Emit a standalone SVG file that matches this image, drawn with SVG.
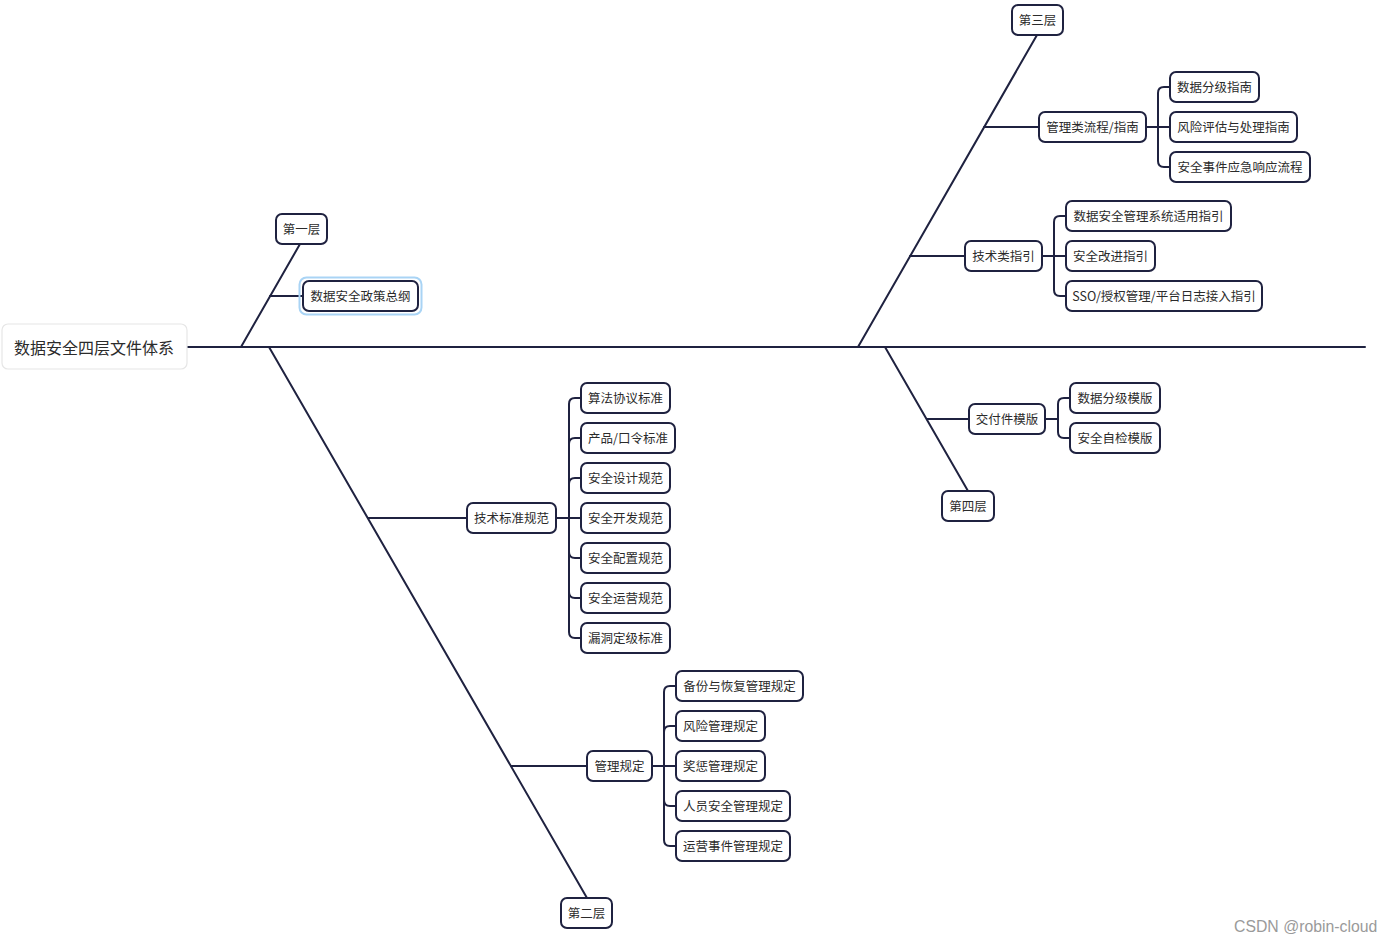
<svg xmlns="http://www.w3.org/2000/svg" width="1392" height="942" viewBox="0 0 1392 942">
<style>
.bg{fill:#ffffff}
.ln{fill:none;stroke:#1f2240;stroke-width:2;stroke-linecap:round;stroke-linejoin:round}
.box{fill:#ffffff;stroke:#1f2240;stroke-width:2}
.root{fill:#ffffff;stroke:#e6e6e6;stroke-width:1.2}
.halo{fill:none;stroke:#a9d4f5;stroke-width:2}
.t{font-family:"Noto Sans CJK SC","Liberation Sans",sans-serif;font-size:12.5px;fill:#2b2b2b;text-anchor:middle;dominant-baseline:central}
.tr{font-family:"Noto Sans CJK SC","Liberation Sans",sans-serif;font-size:16px;fill:#2b2b2b;text-anchor:middle;dominant-baseline:central}
.wm{font-family:"Liberation Sans",Arial,sans-serif;font-size:15.8px;fill:#9a9a9a}
</style>
<rect class="bg" x="0" y="0" width="1392" height="942"/>
<g id="connectors">
<path class="ln" d="M187 347 H1365"/>
<path class="ln" d="M241 347 L300 244"/>
<path class="ln" d="M270 296 H303"/>
<path class="ln" d="M269 347 L587 898"/>
<path class="ln" d="M368 518 H467"/>
<path class="ln" d="M511 766 H587"/>
<path class="ln" d="M858 347 L1037 35"/>
<path class="ln" d="M984 127 H1039"/>
<path class="ln" d="M910 256 H965"/>
<path class="ln" d="M885 347 L968 491"/>
<path class="ln" d="M927 419 H969"/>
<path class="ln" d="M556 518 H581"/>
<path class="ln" d="M569 518 V404 Q569 398 575 398 H581"/>
<path class="ln" d="M569 518 V444 Q569 438 575 438 H581"/>
<path class="ln" d="M569 518 V484 Q569 478 575 478 H581"/>
<path class="ln" d="M569 518 V552 Q569 558 575 558 H581"/>
<path class="ln" d="M569 518 V592 Q569 598 575 598 H581"/>
<path class="ln" d="M569 518 V632 Q569 638 575 638 H581"/>
<path class="ln" d="M652 766 H676"/>
<path class="ln" d="M664 766 V692 Q664 686 670 686 H676"/>
<path class="ln" d="M664 766 V732 Q664 726 670 726 H676"/>
<path class="ln" d="M664 766 V800 Q664 806 670 806 H676"/>
<path class="ln" d="M664 766 V840 Q664 846 670 846 H676"/>
<path class="ln" d="M1146 127 H1170"/>
<path class="ln" d="M1158 127 V93 Q1158 87 1164 87 H1170"/>
<path class="ln" d="M1158 127 V161 Q1158 167 1164 167 H1170"/>
<path class="ln" d="M1042 256 H1066"/>
<path class="ln" d="M1054 256 V222 Q1054 216 1060 216 H1066"/>
<path class="ln" d="M1054 256 V290 Q1054 296 1060 296 H1066"/>
<path class="ln" d="M1045 419 H1058"/>
<path class="ln" d="M1058 419 V404 Q1058 398 1064 398 H1070"/>
<path class="ln" d="M1058 419 V432 Q1058 438 1064 438 H1070"/>
</g>

<g id="root"><rect class="root" x="2" y="324" width="185" height="45" rx="6"/><text class="tr" x="94" y="346.5">数据安全四层文件体系</text></g>

<g id="layer1"><rect class="box" x="276" y="214" width="51" height="30" rx="6"/><text class="t" x="301.5" y="228.5">第一层</text></g>
<g id="policy"><rect class="halo" x="299.5" y="277.5" width="122" height="37" rx="7"/><rect class="box" x="303" y="281" width="115" height="30" rx="6"/><text class="t" x="360.5" y="295.5">数据安全政策总纲</text></g>

<g id="layer2"><rect class="box" x="561" y="898" width="51" height="30" rx="6"/><text class="t" x="586.5" y="912.5">第二层</text></g>
<g id="tech-std"><rect class="box" x="467" y="503" width="89" height="30" rx="6"/><text class="t" x="511.5" y="517.5">技术标准规范</text></g>
<g id="n-algo"><rect class="box" x="581" y="383" width="89" height="30" rx="6"/><text class="t" x="625.5" y="397.5">算法协议标准</text></g>
<g id="n-prod"><rect class="box" x="581" y="423" width="94" height="30" rx="6"/><text class="t" x="628" y="437.5">产品/口令标准</text></g>
<g id="n-design"><rect class="box" x="581" y="463" width="89" height="30" rx="6"/><text class="t" x="625.5" y="477.5">安全设计规范</text></g>
<g id="n-dev"><rect class="box" x="581" y="503" width="89" height="30" rx="6"/><text class="t" x="625.5" y="517.5">安全开发规范</text></g>
<g id="n-conf"><rect class="box" x="581" y="543" width="89" height="30" rx="6"/><text class="t" x="625.5" y="557.5">安全配置规范</text></g>
<g id="n-ops"><rect class="box" x="581" y="583" width="89" height="30" rx="6"/><text class="t" x="625.5" y="597.5">安全运营规范</text></g>
<g id="n-vuln"><rect class="box" x="581" y="623" width="89" height="30" rx="6"/><text class="t" x="625.5" y="637.5">漏洞定级标准</text></g>

<g id="mgmt"><rect class="box" x="587" y="751" width="65" height="30" rx="6"/><text class="t" x="619.5" y="765.5">管理规定</text></g>
<g id="n-backup"><rect class="box" x="676" y="671" width="127" height="30" rx="6"/><text class="t" x="739.5" y="685.5">备份与恢复管理规定</text></g>
<g id="n-risk"><rect class="box" x="676" y="711" width="89" height="30" rx="6"/><text class="t" x="720.5" y="725.5">风险管理规定</text></g>
<g id="n-reward"><rect class="box" x="676" y="751" width="89" height="30" rx="6"/><text class="t" x="720.5" y="765.5">奖惩管理规定</text></g>
<g id="n-staff"><rect class="box" x="676" y="791" width="114" height="30" rx="6"/><text class="t" x="733" y="805.5">人员安全管理规定</text></g>
<g id="n-event"><rect class="box" x="676" y="831" width="114" height="30" rx="6"/><text class="t" x="733" y="845.5">运营事件管理规定</text></g>

<g id="layer3"><rect class="box" x="1012" y="5" width="51" height="30" rx="6"/><text class="t" x="1037.5" y="19.5">第三层</text></g>
<g id="proc"><rect class="box" x="1039" y="112" width="107" height="30" rx="6"/><text class="t" x="1092.5" y="126.5">管理类流程/指南</text></g>
<g id="n-grade"><rect class="box" x="1170" y="72" width="89" height="30" rx="6"/><text class="t" x="1214.5" y="86.5">数据分级指南</text></g>
<g id="n-assess"><rect class="box" x="1170" y="112" width="127" height="30" rx="6"/><text class="t" x="1233.5" y="126.5">风险评估与处理指南</text></g>
<g id="n-incident"><rect class="box" x="1170" y="152" width="140" height="30" rx="6"/><text class="t" x="1240" y="166.5">安全事件应急响应流程</text></g>
<g id="tech-guide"><rect class="box" x="965" y="241" width="77" height="30" rx="6"/><text class="t" x="1003.5" y="255.5">技术类指引</text></g>
<g id="n-system"><rect class="box" x="1066" y="201" width="165" height="30" rx="6"/><text class="t" x="1148.5" y="215.5">数据安全管理系统适用指引</text></g>
<g id="n-improve"><rect class="box" x="1066" y="241" width="89" height="30" rx="6"/><text class="t" x="1110.5" y="255.5">安全改进指引</text></g>
<g id="n-sso"><rect class="box" x="1066" y="281" width="196" height="30" rx="6"/><text class="t" x="1164" y="295.5">SSO/授权管理/平台日志接入指引</text></g>

<g id="layer4"><rect class="box" x="942" y="491" width="52" height="30" rx="6"/><text class="t" x="968" y="505.5">第四层</text></g>
<g id="deliver"><rect class="box" x="969" y="404" width="76" height="30" rx="6"/><text class="t" x="1007" y="418.5">交付件模版</text></g>
<g id="n-grade-tpl"><rect class="box" x="1070" y="383" width="90" height="30" rx="6"/><text class="t" x="1115" y="397.5">数据分级模版</text></g>
<g id="n-check-tpl"><rect class="box" x="1070" y="423" width="90" height="30" rx="6"/><text class="t" x="1115" y="437.5">安全自检模版</text></g>

<text class="wm" x="1234" y="932">CSDN @robin-cloud</text>
</svg>
